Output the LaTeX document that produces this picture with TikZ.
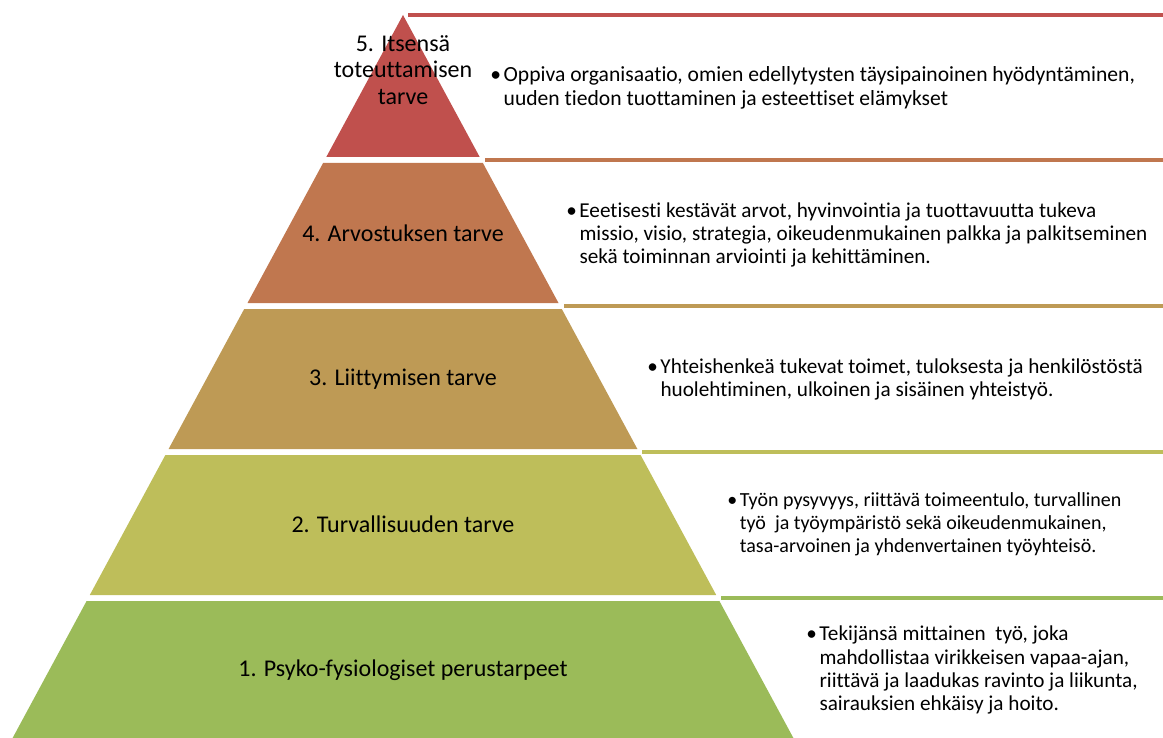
\documentclass[tikz,border=0pt]{standalone}
\usepackage{fontspec}
\setmainfont{Carlito}[Ligatures=NoCommon]
\usepackage{tikz}

\definecolor{lvlfive}{HTML}{C0504D}
\definecolor{lvlfour}{HTML}{C0774F}
\definecolor{lvlthree}{HTML}{BE9A55}
\definecolor{lvltwo}{HTML}{BEBE5A}
\definecolor{lvlone}{HTML}{9BBB59}

\begin{document}
\begin{tikzpicture}[x=0.75pt,y=-0.75pt,
 lab/.style={align=center,font=\fontsize{18}{19.8}\selectfont,inner sep=0pt},
 desc/.style={anchor=west,inner sep=0pt,font=\fontsize{15.9}{17.1}\selectfont},
 bar/.style={line width=3pt}]
\useasboundingbox (0,0) rectangle (1163,738);
% pyramid layers
\fill[lvlfive] (403,15) -- (479.7,157) -- (326.3,157) -- cycle;
\fill[lvlfour] (323.1,163) -- (482.9,163) -- (558.5,303) -- (247.5,303) -- cycle;
\fill[lvlthree] (244.2,309) -- (561.8,309) -- (637.4,449) -- (168.6,449) -- cycle;
\fill[lvltwo] (165.4,455) -- (640.6,455) -- (716.2,595) -- (89.8,595) -- cycle;
\fill[lvlone] (86.6,601) -- (719.4,601) -- (793.4,738) -- (12.6,738) -- cycle;
% bars to the right
\coordinate (b5) at (408,15);
\coordinate (b4) at (485,160);
\coordinate (b3) at (564,306);
\coordinate (b2) at (642,452);
\coordinate (b1) at (721,598);
\draw[bar,lvlfive] (b5) -- (1163,15);
\draw[bar,lvlfour] (b4) -- (1163,160);
\draw[bar,lvlthree] (b3) -- (1163,306);
\draw[bar,lvltwo] (b2) -- (1163,452);
\draw[bar,lvlone] (b1) -- (1163,598);
% level names
\node[lab] (l5) at (403,70) {5. Itsensä\\toteuttamisen\\tarve};
\node[lab] (l4) at (403,233) {4. Arvostuksen tarve};
\node[lab] (l3) at (403,379) {3. Liittymisen tarve};
\node[lab] (l2) at (403,524) {2. Turvallisuuden tarve};
\node[lab] (l1) at (403,670) {1. Psyko-fysiologiset perustarpeet};
% descriptions
\node[desc,font=\fontsize{16.2}{17.6}\selectfont] (d5) at (490,89) {\begin{tabular}{@{}l@{\hspace{2pt}}l@{}}\textbullet & Oppiva organisaatio, omien edellytysten täysipainoinen hyödyntäminen,\\
 & uuden tiedon tuottaminen ja esteettiset elämykset\end{tabular}};
\node[desc] (d4) at (566,236) {\begin{tabular}{@{}l@{\hspace{2pt}}l@{}}\textbullet & Eeetisesti kestävät arvot, hyvinvointia ja tuottavuutta tukeva\\
 & missio, visio, strategia, oikeudenmukainen palkka ja palkitseminen\\
 & sekä toiminnan arviointi ja kehittäminen.\end{tabular}};
\node[desc,font=\fontsize{15.9}{17.4}\selectfont] (d3) at (647,380) {\begin{tabular}{@{}l@{\hspace{2pt}}l@{}}\textbullet & Yhteishenkeä tukevat toimet, tuloksesta ja henkilöstöstä\\
 & huolehtiminen, ulkoinen ja sisäinen yhteistyö.\end{tabular}};
\node[desc,font=\fontsize{15}{17.4}\selectfont] (d2) at (727,525) {\begin{tabular}{@{}l@{\hspace{2pt}}l@{}}\textbullet & Työn pysyvyys, riittävä toimeentulo, turvallinen\\
 & työ~ ja työympäristö sekä oikeudenmukainen,\\
 & tasa-arvoinen ja yhdenvertainen työyhteisö.\end{tabular}};
\node[desc,font=\fontsize{15.9}{17.5}\selectfont] (d1) at (806,671) {\begin{tabular}{@{}l@{\hspace{2pt}}l@{}}\textbullet & Tekijänsä mittainen~ työ, joka\\
 & mahdollistaa virikkeisen vapaa-ajan,\\
 & riittävä ja laadukas ravinto ja liikunta,\\
 & sairauksien ehkäisy ja hoito.\end{tabular}};
\end{tikzpicture}
\end{document}
